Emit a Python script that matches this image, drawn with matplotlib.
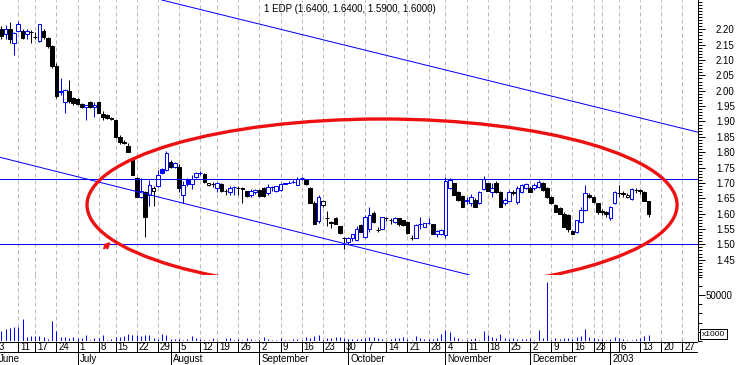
import numpy as np
import pandas as pd
import matplotlib
matplotlib.use('Agg')
import matplotlib.pyplot as plt
from matplotlib.patches import Rectangle, Ellipse
from matplotlib.ticker import FixedLocator, MultipleLocator
from matplotlib.transforms import offset_copy

plt.rcParams['font.family'] = ['Liberation Sans', 'DejaVu Sans']

title = '1 EDP (1.6400, 1.6400, 1.5900, 1.6000)'

# trading calendar (Lisbon), June 2002 - Jan 2003
holidays = ['2002-06-10', '2002-07-12', '2002-08-15', '2002-11-01',
            '2002-12-24', '2002-12-25', '2002-12-26', '2003-01-01']
days = pd.bdate_range('2002-06-03', '2003-02-14')
days = days[~days.isin(pd.to_datetime(holidays))]

opens = [2.190, 2.202, 2.184, 2.202, 2.156, 2.194, 2.194, 2.184, 2.192, 2.176,
         2.162, 2.194, 2.173, 2.145, 2.082, 1.995, 1.964, 2.000, 1.975, 1.974,
         1.957, 1.946, 1.964, 1.946, 1.964, 1.925, 1.920, 1.912, 1.905, 1.850,
         1.832, 1.821, 1.775, 1.716, 1.653, 1.671, 1.660, 1.672, 1.690, 1.745,
         1.742, 1.768, 1.752, 1.752, 1.660, 1.713, 1.695, 1.719, 1.731, 1.730,
         1.694, 1.696, 1.683, 1.696, 1.672, 1.670, 1.685, 1.684, 1.683, 1.672,
         1.660, 1.671, 1.677, 1.682, 1.668, 1.686, 1.675, 1.678, 1.697, 1.700,
         1.703, 1.694, 1.715, 1.710, 1.682, 1.633, 1.577, 1.628, 1.585, 1.570,
         1.584, 1.559, 1.520, 1.506, 1.519, 1.513, 1.562, 1.524, 1.551, 1.603,
         1.546, 1.551, 1.584, 1.578, 1.574, 1.584, 1.578, 1.573, 1.522, 1.522,
         1.565, 1.557, 1.568, 1.565, 1.533, 1.535, 1.529, 1.682, 1.698, 1.671,
         1.657, 1.640, 1.633, 1.644, 1.633, 1.679, 1.698, 1.671, 1.698, 1.671,
         1.633, 1.642, 1.671, 1.638, 1.671, 1.682, 1.684, 1.682, 1.685, 1.698,
         1.682, 1.655, 1.628, 1.617, 1.600, 1.595, 1.542, 1.540, 1.573, 1.613,
         1.660, 1.655, 1.633, 1.607, 1.606, 1.584, 1.633, 1.667, 1.666, 1.655,
         1.649, 1.678, 1.676, 1.671, 1.640]
highs = [2.210, 2.210, 2.213, 2.224, 2.190, 2.226, 2.200, 2.200, 2.198, 2.190,
         2.218, 2.200, 2.176, 2.150, 2.090, 2.043, 2.006, 2.036, 1.980, 1.976,
         1.960, 1.955, 1.966, 1.964, 1.966, 1.935, 1.925, 1.915, 1.906, 1.855,
         1.840, 1.830, 1.780, 1.720, 1.716, 1.675, 1.709, 1.690, 1.742, 1.750,
         1.805, 1.775, 1.768, 1.760, 1.705, 1.715, 1.725, 1.735, 1.740, 1.733,
         1.700, 1.703, 1.703, 1.700, 1.680, 1.690, 1.690, 1.690, 1.688, 1.675,
         1.680, 1.680, 1.680, 1.685, 1.695, 1.690, 1.690, 1.700, 1.700, 1.705,
         1.708, 1.718, 1.718, 1.712, 1.685, 1.640, 1.660, 1.645, 1.610, 1.575,
         1.590, 1.560, 1.524, 1.525, 1.535, 1.560, 1.565, 1.595, 1.620, 1.610,
         1.555, 1.590, 1.590, 1.585, 1.590, 1.585, 1.580, 1.575, 1.530, 1.565,
         1.590, 1.570, 1.585, 1.567, 1.548, 1.550, 1.720, 1.716, 1.700, 1.675,
         1.660, 1.655, 1.665, 1.650, 1.675, 1.722, 1.700, 1.698, 1.705, 1.675,
         1.650, 1.676, 1.676, 1.690, 1.695, 1.698, 1.690, 1.698, 1.709, 1.704,
         1.685, 1.658, 1.632, 1.620, 1.605, 1.600, 1.546, 1.580, 1.620, 1.693,
         1.668, 1.658, 1.636, 1.615, 1.610, 1.625, 1.675, 1.693, 1.672, 1.668,
         1.682, 1.682, 1.680, 1.674, 1.640]
lows = [2.170, 2.170, 2.170, 2.156, 2.118, 2.190, 2.170, 2.170, 2.156, 2.170,
        2.160, 2.170, 2.140, 2.075, 1.978, 1.985, 1.929, 1.960, 1.955, 1.955,
        1.945, 1.906, 1.945, 1.915, 1.928, 1.905, 1.908, 1.905, 1.845, 1.828,
        1.825, 1.800, 1.725, 1.654, 1.650, 1.524, 1.624, 1.624, 1.688, 1.730,
        1.740, 1.750, 1.750, 1.670, 1.634, 1.690, 1.680, 1.715, 1.725, 1.700,
        1.690, 1.688, 1.670, 1.670, 1.660, 1.660, 1.660, 1.660, 1.633, 1.655,
        1.655, 1.665, 1.655, 1.655, 1.660, 1.675, 1.670, 1.675, 1.695, 1.698,
        1.699, 1.692, 1.710, 1.694, 1.633, 1.565, 1.568, 1.620, 1.560, 1.552,
        1.565, 1.535, 1.486, 1.500, 1.510, 1.510, 1.540, 1.520, 1.540, 1.570,
        1.540, 1.550, 1.575, 1.565, 1.570, 1.560, 1.560, 1.535, 1.515, 1.520,
        1.550, 1.555, 1.565, 1.535, 1.525, 1.530, 1.520, 1.680, 1.660, 1.640,
        1.620, 1.630, 1.625, 1.620, 1.630, 1.677, 1.672, 1.655, 1.668, 1.620,
        1.628, 1.640, 1.660, 1.630, 1.668, 1.680, 1.670, 1.678, 1.682, 1.675,
        1.652, 1.630, 1.604, 1.598, 1.555, 1.540, 1.533, 1.538, 1.570, 1.610,
        1.650, 1.635, 1.600, 1.595, 1.590, 1.580, 1.630, 1.655, 1.655, 1.650,
        1.645, 1.668, 1.665, 1.640, 1.590]
closes = [2.200, 2.178, 2.202, 2.167, 2.189, 2.216, 2.173, 2.194, 2.190, 2.175,
          2.216, 2.176, 2.145, 2.080, 1.982, 2.000, 2.004, 1.965, 1.960, 1.957,
          1.946, 1.955, 1.948, 1.955, 1.929, 1.915, 1.912, 1.908, 1.850, 1.832,
          1.830, 1.801, 1.726, 1.655, 1.674, 1.589, 1.693, 1.683, 1.725, 1.732,
          1.798, 1.752, 1.765, 1.683, 1.693, 1.695, 1.713, 1.731, 1.732, 1.703,
          1.699, 1.696, 1.700, 1.674, 1.672, 1.683, 1.685, 1.682, 1.681, 1.657,
          1.675, 1.677, 1.657, 1.656, 1.685, 1.686, 1.690, 1.695, 1.699, 1.701,
          1.703, 1.714, 1.715, 1.695, 1.635, 1.567, 1.655, 1.640, 1.584, 1.573,
          1.566, 1.537, 1.519, 1.522, 1.533, 1.550, 1.541, 1.590, 1.595, 1.573,
          1.546, 1.589, 1.584, 1.578, 1.584, 1.565, 1.562, 1.537, 1.522, 1.562,
          1.566, 1.568, 1.570, 1.535, 1.544, 1.546, 1.705, 1.709, 1.662, 1.644,
          1.622, 1.645, 1.655, 1.622, 1.671, 1.711, 1.674, 1.682, 1.671, 1.622,
          1.644, 1.671, 1.666, 1.682, 1.693, 1.695, 1.671, 1.693, 1.702, 1.677,
          1.655, 1.633, 1.606, 1.600, 1.557, 1.551, 1.535, 1.578, 1.611, 1.666,
          1.655, 1.638, 1.606, 1.605, 1.598, 1.622, 1.671, 1.666, 1.665, 1.662,
          1.679, 1.677, 1.674, 1.642, 1.600]
# volume in thousands of shares
volumes = [9000, 10900, 12700, 14500, 15200, 15200, 23500, 4350, 5400, 5400,
           5400, 4350, 1800, 21700, 10900, 4350, 4350, 3600, 4350, 2900,
           3600, 6500, 800, 2900, 3600, 6500, 800, 1800, 4350, 4350,
           5400, 7200, 6500, 6500, 5400, 6500, 6500, 2900, 1800, 7200,
           6500, 1800, 1800, 1800, 800, 1800, 5400, 2900, 1800, 1400,
           800, 2900, 500, 500, 2900, 2900, 800, 1800, 800, 2900,
           1800, 800, 800, 4350, 1800, 1400, 1400, 2900, 1400, 1400,
           1800, 1800, 800, 4350, 2900, 5400, 6500, 800, 2900, 3600,
           4350, 4350, 3600, 1800, 1800, 1800, 1800, 3600, 4350, 4350,
           2900, 1800, 500, 1800, 2900, 2900, 4350, 1800, 800, 5400,
           2900, 1800, 1800, 1800, 2900, 7200, 11600, 10100, 4350, 2900,
           800, 1400, 1800, 2900, 800, 10900, 6500, 4350, 2900, 7200,
           2900, 1800, 2900, 1800, 1800, 1800, 2900, 800, 11600, 3600,
           64500, 800, 2900, 1800, 2900, 2900, 1800, 4350, 5400, 12700,
           4350, 2900, 1800, 1800, 1400, 1800, 4350, 2900, 1800, 1400,
           1400, 1800, 2900, 5400, 6500]

# drawn studies: (bar index, price) anchors
upper_trend = [(39, 2.2952), (163, 1.8742)]
lower_trend = [(0, 1.7856), (112, 1.3990)]
resistance = 1.713
support = 1.50
ellipse_center = (91.0, 1.628)
ellipse_size = (139.5, 0.560)
arrow_from = (24.8, 1.481)
arrow_to = (27.4, 1.514)

W, H = 738, 365
PX = 72 / 100  # one pixel in points
BLUE = '#0000ff'
x_left, x_right = 0.674, 165.7

fig = plt.figure(figsize=(W / 100, H / 100), dpi=100)
ax = fig.add_axes([0, 1 - 275 / H, 698 / W, 275 / H])
axv = fig.add_axes([0, 24 / H, 698 / W, 66 / H])
axd = fig.add_axes([0, 0, 698 / W, 24 / H])

n = len(closes)
idx = np.arange(n)

# week / month boundaries on the bar index scale
dates = days[:int(x_right) + 1]
week_pos, week_lab, month_pos, month_lab = [0], [str(dates[0].day)], [0], [dates[0].strftime('%B')]
for i in range(1, len(dates)):
    d, p = dates[i], dates[i - 1]
    if d.isocalendar()[1] != p.isocalendar()[1]:
        week_pos.append(i)
        week_lab.append(str(d.day))
    if d.month != p.month:
        month_pos.append(i)
        month_lab.append(str(d.year) if d.month == 1 else d.strftime('%B'))
year_pos = [p for p, m in zip(month_pos, month_lab) if m.isdigit()]

for a in (ax, axv):
    a.set_xlim(x_left, x_right)
    a.vlines(week_pos, 0, 1, transform=a.get_xaxis_transform(), colors='#b8b8b8',
             lw=PX, linestyles=(0, (4, 3)), zorder=0)
    for s in ('left', 'top', 'bottom'):
        a.spines[s].set_visible(False)
    a.spines['right'].set_linewidth(PX)
    a.tick_params(axis='x', bottom=False, labelbottom=False)
    a.yaxis.tick_right()
    a.tick_params(axis='y', which='both', direction='out', width=PX, colors='black',
                  labelsize=7)
    a.patch.set_alpha(0)

# price panel
ax.set_ylim(1.40, 2.2955)
body_w = 0.86
for i in idx:
    o, h, l, c = opens[i], highs[i], lows[i], closes[i]
    col = BLUE if i == 0 or c >= closes[i - 1] else 'black'
    ax.vlines(i, l, h, colors=col, lw=PX, zorder=2)
    lo, hi = min(o, c), max(o, c)
    fc = col if c < o else 'white'
    ax.add_patch(Rectangle((i - body_w / 2, lo), body_w, hi - lo, fc=fc, ec=col,
                           lw=PX, zorder=3))

ax.axhline(resistance, color=BLUE, lw=PX, zorder=4)
ax.axhline(support, color=BLUE, lw=PX, zorder=4)
ax.axline(upper_trend[0], upper_trend[1], color=BLUE, lw=PX, zorder=4)
ax.axline(lower_trend[0], lower_trend[1], color=BLUE, lw=PX, zorder=4)
ax.add_patch(Ellipse(ellipse_center, ellipse_size[0], ellipse_size[1], fill=False,
                     ec='#ee1111', lw=2.4, zorder=5))
ax.annotate('', xy=arrow_to, xytext=arrow_from,
            arrowprops=dict(arrowstyle='-|>', color='#ee1111', lw=1.6,
                            mutation_scale=8), zorder=5)

labels = np.round(np.arange(1.45, 2.2001, 0.05), 2)
ax.yaxis.set_major_locator(FixedLocator(labels))
ax.set_yticklabels(['%.2f' % v for v in labels])
ax.yaxis.set_minor_locator(MultipleLocator(0.01))
ax.tick_params(axis='y', which='major', length=7 * PX, pad=11 * PX)
ax.tick_params(axis='y', which='minor', length=4 * PX)

ax.text(264 / 698, 1 - 8.5 / 275, title, transform=ax.transAxes, fontsize=7,
        ha='left', va='center')

# volume panel
axv.set_ylim(0, 66 * 50000 / 46)
axv.vlines(idx, 0, volumes, colors=BLUE, lw=PX, zorder=2)
axv.yaxis.set_major_locator(FixedLocator([50000]))
axv.set_yticklabels(['50000'])
axv.yaxis.set_minor_locator(MultipleLocator(10000))
axv.tick_params(axis='y', which='major', length=7 * PX, pad=1 * PX)
axv.tick_params(axis='y', which='minor', length=4 * PX)
fig.text(702 / W, 1 - 334 / H, 'x1000', fontsize=6, va='center', ha='left',
         bbox=dict(boxstyle='square,pad=0.2', fc='white', ec='black', lw=PX))

# date strip
axd.set_xlim(x_left, x_right)
axd.set_ylim(0, 1)
axd.axis('off')
mid = 13 / 24
axd.axhline(1 - 0.5 / 24, color='black', lw=PX)
axd.axhline(mid, color='black', lw=PX)
axd.vlines(week_pos, mid, 1, colors='black', lw=PX)
axd.vlines(month_pos, 0, 1, colors='black', lw=PX)
shift = offset_copy(axd.transData, fig=fig, x=2, y=0, units='dots')
for p, lab in zip(week_pos, week_lab):
    # the week squeezed in just before the new year gets no label
    if any(0 < y - p <= 3 for y in year_pos):
        continue
    if p < x_right - 2:
        axd.text(p, (1 + mid) / 2, lab, transform=shift, fontsize=7, ha='left',
                 va='center', clip_on=True)
for p, lab in zip(month_pos, month_lab):
    if p < x_right - 8:
        axd.text(p, mid / 2, lab, transform=shift, fontsize=7, ha='left',
                 va='center', clip_on=True)

fig.savefig('out.png', dpi=100)
